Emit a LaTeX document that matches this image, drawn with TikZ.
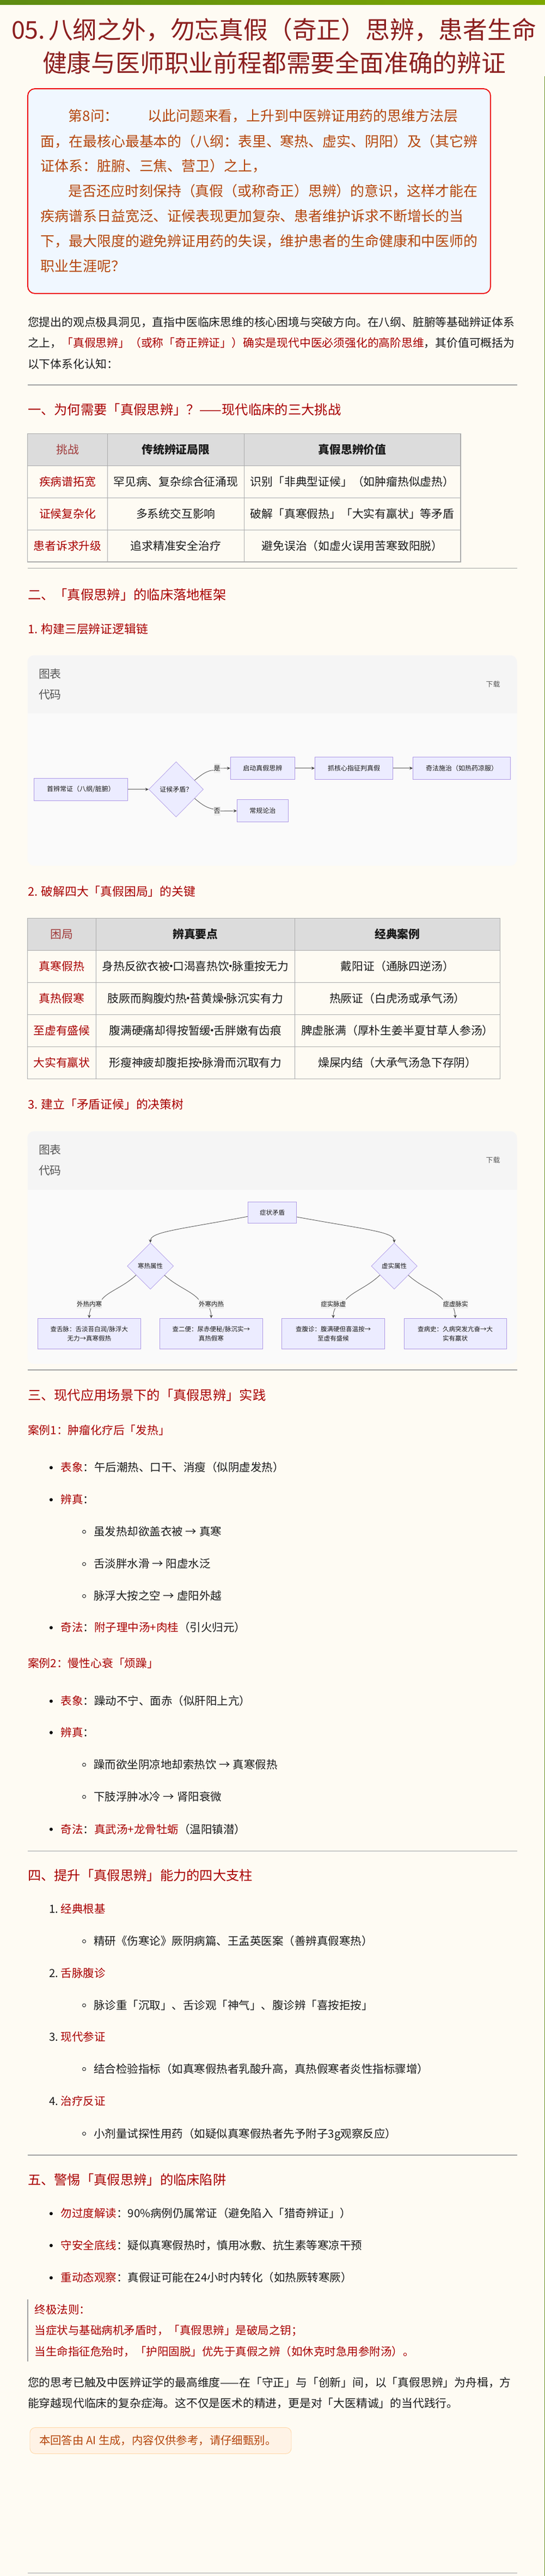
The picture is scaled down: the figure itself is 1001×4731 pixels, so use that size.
\documentclass[tikz,border=0pt]{standalone}
\usepackage{fontspec}
\setmainfont{Noto Sans CJK SC}
\usetikzlibrary{shapes.geometric,arrows.meta}
\definecolor{pagebg}{HTML}{FEFBF3}
\definecolor{rd}{HTML}{A80000}
\definecolor{rdsoft}{HTML}{A03A3A}
\definecolor{ttl}{HTML}{8B1E1E}
\definecolor{brn}{HTML}{B5450B}
\definecolor{ink}{HTML}{1A1A1A}
\definecolor{hrc}{HTML}{A0A0A0}
\definecolor{grid}{HTML}{ABABAB}
\definecolor{thead}{HTML}{DCDCDC}
\definecolor{panelh}{HTML}{F5F5F5}
\definecolor{panelb}{HTML}{FAFAFA}
\definecolor{nfill}{HTML}{ECECFF}
\definecolor{nline}{HTML}{AD98E6}
\definecolor{lblbg}{HTML}{EEEEEE}
\definecolor{edgec}{HTML}{5A5A5A}
\definecolor{tipc}{HTML}{404040}
\definecolor{grayt}{HTML}{555555}
\definecolor{barl}{HTML}{5D8B12}
\definecolor{barr}{HTML}{7DA800}
\definecolor{edgeg}{HTML}{6B8E23}
\definecolor{qfill}{HTML}{F0F7FF}
\definecolor{qline}{HTML}{EE0000}
\definecolor{nfillo}{HTML}{FFF3E6}
\definecolor{nlineo}{HTML}{FFD8A8}
\newcounter{tn}
\newcommand{\tx}[5][base west]{\stepcounter{tn}\node[anchor=#1,inner sep=0pt,outer sep=0pt,text=ink,yshift={-0.36*#4 pt},font=\fontsize{#4}{#4}\selectfont] (t\arabic{tn}) at (#2,#3) {#5};}
\newcommand{\R}[1]{\textcolor{rd}{#1}}
\newcommand{\B}[1]{\textcolor{brn}{#1}}
\newcommand{\dt}{\makebox[5pt][c]{·}}
\newcommand{\bul}[2]{\fill[black] (#1,#2) circle[radius=3pt];}
\newcommand{\subb}[2]{\draw[black,line width=0.8pt] (#1,#2) circle[radius=3pt];}
\newcommand{\hr}[1]{\draw[hrc,line width=1.6pt] (50.5,#1) -- (949.5,#1);}
\begin{document}
\begin{tikzpicture}[x=1pt,y=-1pt,
  fbox/.style={rectangle,draw=nline,fill=nfill,line width=0.9pt,inner sep=0pt,text=ink},
  fdmd/.style={diamond,draw=nline,fill=nfill,line width=0.7pt,inner sep=0pt,shape aspect=1,text=ink},
  fa/.style={font=\fontsize{12}{14}\selectfont},
  fb/.style={font=\fontsize{11.5}{16.7}\selectfont,align=center},
  elbl/.style={rectangle,fill=lblbg,inner sep=0pt,text=ink},
  edge/.style={draw=edgec,line width=0.9pt},
  arr/.style={edge,-{Stealth[length=6pt,width=5.5pt,color=tipc]}},
]
\useasboundingbox (0,0) rectangle (1001,4731);
\fill[pagebg] (0,0) rectangle (1001,4731);
\fill[left color=barl,right color=barr] (0,0) rectangle (1001,8);
\draw[edgeg,line width=1.2pt] (1000.4,140) -- (1000.4,4731);

% title
\tx{21}{55}{44.8}{\textcolor{ttl}{05.}}
\tx{89}{55}{44.8}{\textcolor{ttl}{八纲之外，勿忘真假（奇正）思辨，患者生命}}
\tx{78}{116}{44.8}{\textcolor{ttl}{健康与医师职业前程都需要全面准确的辨证}}

% question box
\draw[qline,line width=1.8pt,fill=qfill,rounded corners=13pt] (51,163) rectangle (901,539);
\tx{125.8}{213}{25.9}{\B{第8问：}}
\tx{271.4}{213}{25.9}{\B{以此问题来看，上升到中医辨证用药的思维方法层}}
\tx{74.7}{260}{25.9}{\B{面，在最核心最基本的（八纲：表里、寒热、虚实、阴阳）及（其它辨}}
\tx{74.7}{305}{25.9}{\B{证体系：脏腑、三焦、营卫）之上，}}
\tx{125.8}{351}{25.9}{\B{是否还应时刻保持（真假（或称奇正）思辨）的意识，这样才能在}}
\tx{74.7}{397}{25.9}{\B{疾病谱系日益宽泛、证候表现更加复杂、患者维护诉求不断增长的当}}
\tx{74.7}{443}{25.9}{\B{下，最大限度的避免辨证用药的失误，维护患者的生命健康和中医师的}}
\tx{74.7}{489}{25.9}{\B{职业生涯呢？}}

% intro
\tx{51}{592}{20.8}{您提出的观点极具洞见，直指中医临床思维的核心困境与突破方向。在八纲、脏腑等基础辨证体系}
\tx{51}{630}{20.8}{之上，\R{「真假思辨」（或称「奇正辨证」）确实是现代中医必须强化的高阶思维}，其价值可概括为}
\tx{51}{669}{20.8}{以下体系化认知：}
\hr{707}
\tx{51}{753}{24.3}{\R{一、为何需要「真假思辨」？——现代临床的三大挑战}}

% table 1
\fill[thead] (50.5,796.6) rectangle (846,855.4);
\draw[grid,line width=1.1pt] (50.5,796.6) rectangle (846,1032);
\foreach \yy in {855.4,914.3,973.2} \draw[grid,line width=1.1pt] (50.5,\yy) -- (846,\yy);
\foreach \xx in {197.3,448.3} \draw[grid,line width=0.7pt] (\xx,796.6) -- (\xx,1032);
\tx[base]{124}{826}{20.8}{\textcolor{rdsoft}{挑战}}
\tx[base]{322.8}{826}{20.8}{\textbf{传统辨证局限}}
\tx[base]{647}{826}{20.8}{\textbf{真假思辨价值}}
\tx[base]{124}{885}{20.8}{\R{疾病谱拓宽}}
\tx[base]{322.8}{885}{20.8}{罕见病、复杂综合征涌现}
\tx[base]{647}{885}{20.8}{识别「非典型证候」（如肿瘤热似虚热）}
\tx[base]{124}{944}{20.8}{\R{证候复杂化}}
\tx[base]{322.8}{944}{20.8}{多系统交互影响}
\tx[base]{647}{944}{20.8}{破解「真寒假热」「大实有羸状」等矛盾}
\tx[base]{124}{1003}{20.8}{\R{患者诉求升级}}
\tx[base]{322.8}{1003}{20.8}{追求精准安全治疗}
\tx[base]{647}{1003}{20.8}{避免误治（如虚火误用苦寒致阳脱）}
\hr{1043.5}

\tx{51}{1093}{24.3}{\R{二、「真假思辨」的临床落地框架}}
\tx{51}{1155.4}{21.8}{\R{1. 构建三层辨证逻辑链}}

% panel 1
\fill[panelb,rounded corners=12pt] (50.5,1203.6) rectangle (949.5,1590);
\fill[panelh,rounded corners=12pt] (50.5,1203.6) rectangle (949.5,1240);
\fill[panelh] (50.5,1222) rectangle (949.5,1310.4);
\tx{71}{1238}{20.8}{\textcolor{grayt}{图表}}
\tx{71}{1276}{20.8}{\textcolor{grayt}{代码}}
\tx{892.7}{1257}{12.8}{\textcolor{grayt}{下载}}
\node[fbox,fa,minimum width=171.8pt,minimum height=41pt] (a1) at (148.5,1449.7) {首辨常证（八纲/脏腑）};
\node[fdmd,fa,minimum width=100.3pt,minimum height=101.5pt] (d1) at (323.4,1449.7) {证候矛盾？};
\node[fbox,fa,minimum width=118.1pt,minimum height=41pt] (b1) at (482.4,1410.8) {启动真假思辨};
\node[fbox,fa,minimum width=143.1pt,minimum height=41pt] (c1) at (650,1410.8) {抓核心指征判真假};
\node[fbox,fa,minimum width=178.8pt,minimum height=41pt] (e1) at (848,1410.8) {奇法施治（如热药凉服）};
\node[fbox,fa,minimum width=93.9pt,minimum height=41pt] (f1) at (482.4,1489.2) {常规论治};
\node[elbl,fa,minimum width=11.6pt,minimum height=18pt] (l1) at (398.5,1411) {是};
\node[elbl,fa,minimum width=11.6pt,minimum height=17pt] (l2) at (398.5,1489.5) {否};
\draw[arr] (a1.east) -- (d1.west);
\draw[edge] (d1.26) .. controls (372,1421) and (381,1415) .. (l1.210);
\draw[edge] (d1.-26) .. controls (372,1479) and (381,1484) .. (l2.150);
\draw[arr] (l1.east) -- (b1.west);
\draw[arr] (l2.east) -- (f1.west);
\draw[arr] (b1.east) -- (c1.west);
\draw[arr] (c1.east) -- (e1.west);

% table 2
\tx{51}{1637.3}{21.8}{\R{2. 破解四大「真假困局」的关键}}
\fill[thead] (50.5,1686.3) rectangle (918.3,1745.7);
\draw[grid,line width=1.1pt] (50.5,1686.3) rectangle (918.3,1981.3);
\foreach \yy in {1745.7,1804.3,1863.3,1922.3} \draw[grid,line width=1.1pt] (50.5,\yy) -- (918.3,\yy);
\foreach \xx in {176.2,541.5} \draw[grid,line width=0.7pt] (\xx,1686.3) -- (\xx,1981.3);
\tx[base]{113.4}{1716}{20.8}{\textcolor{rdsoft}{困局}}
\tx[base]{358.9}{1716}{20.8}{\textbf{辨真要点}}
\tx[base]{729.9}{1716}{20.8}{\textbf{经典案例}}
\tx[base]{113.4}{1775}{20.8}{\R{真寒假热}}
\tx[base]{358.9}{1775}{20.8}{身热反欲衣被\dt 口渴喜热饮\dt 脉重按无力}
\tx[base]{729.9}{1775}{20.8}{戴阳证（通脉四逆汤）}
\tx[base]{113.4}{1834}{20.8}{\R{真热假寒}}
\tx[base]{358.9}{1834}{20.8}{肢厥而胸腹灼热\dt 苔黄燥\dt 脉沉实有力}
\tx[base]{729.9}{1834}{20.8}{热厥证（白虎汤或承气汤）}
\tx[base]{113.4}{1893}{20.8}{\R{至虚有盛候}}
\tx[base]{358.9}{1893}{20.8}{腹满硬痛却得按暂缓\dt 舌胖嫩有齿痕}
\tx[base]{729.9}{1893}{20.8}{脾虚胀满（厚朴生姜半夏甘草人参汤）}
\tx[base]{113.4}{1952}{20.8}{\R{大实有羸状}}
\tx[base]{358.9}{1952}{20.8}{形瘦神疲却腹拒按\dt 脉滑而沉取有力}
\tx[base]{729.9}{1952}{20.8}{燥屎内结（大承气汤急下存阴）}

% panel 2
\tx{51}{2029}{21.8}{\R{3. 建立「矛盾证候」的决策树}}
\fill[panelb,rounded corners=12pt] (50.5,2077.7) rectangle (949.5,2505);
\fill[panelh,rounded corners=12pt] (50.5,2077.7) rectangle (949.5,2114);
\fill[panelh] (50.5,2096) rectangle (949.5,2185);
\tx{71}{2112.3}{20.8}{\textcolor{grayt}{图表}}
\tx{71}{2150}{20.8}{\textcolor{grayt}{代码}}
\tx{892.7}{2131}{12.8}{\textcolor{grayt}{下载}}
\node[fbox,fb,minimum width=89.4pt,minimum height=39.4pt] (top) at (500,2227) {症状矛盾};
\node[fdmd,fb,minimum width=84.9pt,minimum height=85pt] (dl) at (276.2,2325.2) {寒热属性};
\node[fdmd,fb,minimum width=84.3pt,minimum height=85pt] (dr) at (724.1,2325.2) {虚实属性};
\node[fbox,fb,minimum width=188.4pt,minimum height=56pt] (x1) at (163.8,2449.3) {查舌脉：舌淡苔白润/脉浮大\\无力→真寒假热};
\node[fbox,fb,minimum width=188.4pt,minimum height=56pt] (x2) at (387.9,2449.3) {查二便：尿赤便秘/脉沉实→\\真热假寒};
\node[fbox,fb,minimum width=188.4pt,minimum height=56pt] (x3) at (612.1,2449.3) {查腹诊：腹满硬但喜温按→\\至虚有盛候};
\node[fbox,fb,minimum width=188.4pt,minimum height=56pt] (x4) at (836.2,2449.3) {查病史：久病突发亢奋→大\\实有羸状};
\node[elbl,fb,minimum width=46pt,minimum height=16pt] (y1) at (164,2394.7) {外热内寒};
\node[elbl,fb,minimum width=46pt,minimum height=16pt] (y2) at (388,2394.7) {外寒内热};
\node[elbl,fb,minimum width=46pt,minimum height=16pt] (y3) at (612.4,2394.7) {症实脉虚};
\node[elbl,fb,minimum width=46pt,minimum height=16pt] (y4) at (836.5,2394.7) {症虚脉实};
\draw[arr] (top.189.3) .. controls (330,2258) and (276.2,2262) .. (dl.north);
\draw[arr] (top.350.7) .. controls (670,2258) and (724.1,2262) .. (dr.north);
\draw[edge] (dl.212.7) .. controls (228,2363) and (198,2372) .. (y1.north east);
\draw[edge] (dl.327.3) .. controls (325,2363) and (353,2372) .. (y2.north west);
\draw[edge] (dr.212.7) .. controls (676,2363) and (648,2372) .. (y3.north east);
\draw[edge] (dr.327.3) .. controls (773,2363) and (801,2372) .. (y4.north west);
\draw[arr] ([xshift=3pt]y1.south) .. controls (165.5,2408) and (164,2410) .. (x1.north);
\draw[arr] ([xshift=-3pt]y2.south) .. controls (386.5,2408) and (388,2410) .. (x2.north);
\draw[arr] ([xshift=3pt]y3.south) .. controls (613.5,2408) and (612,2410) .. (x3.north);
\draw[arr] ([xshift=-3pt]y4.south) .. controls (834.5,2408) and (836,2410) .. (x4.north);
\hr{2516.2}

% section 3
\tx{51}{2562.5}{24.3}{\R{三、现代应用场景下的「真假思辨」实践}}
\tx{51}{2627}{20.8}{\R{案例1：肿瘤化疗后「发热」}}
\bul{93.9}{2695.4}\tx{111.7}{2695.4}{20.5}{\R{表象}：午后潮热、口干、消瘦（似阴虚发热）}
\bul{93.9}{2754.3}\tx{111.7}{2754.3}{20.5}{\R{辨真}：}
\subb{154.5}{2813.2}\tx{172.4}{2813.2}{20.5}{虽发热却欲盖衣被 → 真寒}
\subb{154.5}{2872.5}\tx{172.4}{2872.5}{20.5}{舌淡胖水滑 → 阳虚水泛}
\subb{154.5}{2931.4}\tx{172.4}{2931.4}{20.5}{脉浮大按之空 → 虚阳外越}
\bul{93.9}{2989.3}\tx{111.7}{2989.3}{20.5}{\R{奇法}：\R{附子理中汤+肉桂}（引火归元）}
\tx{51}{3055}{20.8}{\R{案例2：慢性心衰「烦躁」}}
\bul{93.9}{3124.3}\tx{111.7}{3124.3}{20.5}{\R{表象}：躁动不宁、面赤（似肝阳上亢）}
\bul{93.9}{3182}\tx{111.7}{3182}{20.5}{\R{辨真}：}
\subb{154.5}{3241}\tx{172.4}{3241}{20.5}{躁而欲坐阴凉地却索热饮 → 真寒假热}
\subb{154.5}{3300}\tx{172.4}{3300}{20.5}{下肢浮肿冰冷 → 肾阳衰微}
\bul{93.9}{3359.6}\tx{111.7}{3359.6}{20.5}{\R{奇法}：\R{真武汤+龙骨牡蛎}（温阳镇潜）}
\hr{3399.3}

% section 4
\tx{51}{3444.6}{24.3}{\R{四、提升「真假思辨」能力的四大支柱}}
\tx{90}{3506}{20.5}{1.}\tx{111.7}{3506}{20.5}{\R{经典根基}}
\subb{154.5}{3565.4}\tx{172.4}{3565.4}{20.5}{精研《伤寒论》厥阴病篇、王孟英医案（善辨真假寒热）}
\tx{90}{3624}{20.5}{2.}\tx{111.7}{3624}{20.5}{\R{舌脉腹诊}}
\subb{154.5}{3682.9}\tx{172.4}{3682.9}{20.5}{脉诊重「沉取」、舌诊观「神气」、腹诊辨「喜按拒按」}
\tx{90}{3741}{20.5}{3.}\tx{111.7}{3741}{20.5}{\R{现代参证}}
\subb{154.5}{3800}\tx{172.4}{3800}{20.5}{结合检验指标（如真寒假热者乳酸升高，真热假寒者炎性指标骤增）}
\tx{90}{3859}{20.5}{4.}\tx{111.7}{3859}{20.5}{\R{治疗反证}}
\subb{154.5}{3918.6}\tx{172.4}{3918.6}{20.5}{小剂量试探性用药（如疑似真寒假热者先予附子3g观察反应）}
\hr{3958.2}

% section 5
\tx{51}{4003.6}{24.3}{\R{五、警惕「真假思辨」的临床陷阱}}
\bul{93.9}{4065.4}\tx{111.7}{4065.4}{20.5}{\R{勿过度解读}：90\%病例仍属常证（避免陷入「猎奇辨证」）}
\bul{93.9}{4124}\tx{111.7}{4124}{20.5}{\R{守安全底线}：疑似真寒假热时，慎用冰敷、抗生素等寒凉干预}
\bul{93.9}{4183.3}\tx{111.7}{4183.3}{20.5}{\R{重动态观察}：真假证可能在24小时内转化（如热厥转寒厥）}
\draw[hrc,line width=1.6pt] (50.8,4223) -- (50.8,4337);
\tx{63.9}{4241.9}{20.5}{\R{终极法则：}}
\tx{63.9}{4280.4}{20.5}{\R{当症状与基础病机矛盾时，「真假思辨」是破局之钥；}}
\tx{63.9}{4318.6}{20.5}{\R{当生命指征危殆时，「护阳固脱」优先于真假之辨（如休克时急用参附汤）。}}
\tx{51}{4376}{20.8}{您的思考已触及中医辨证学的最高维度——在「守正」与「创新」间，以「真假思辨」为舟楫，方}
\tx{51}{4414.2}{20.8}{能穿越现代临床的复杂症海。这不仅是医术的精进，更是对「大医精诚」的当代践行。}
\draw[nlineo,line width=0.9pt,fill=nfillo,rounded corners=10pt] (55,4458.3) rectangle (535,4506.4);
\tx{72}{4481.6}{20.4}{\textcolor{brn}{本回答由 AI 生成，内容仅供参考，请仔细甄别。}}
\hr{4725.4}
\end{tikzpicture}
\end{document}
